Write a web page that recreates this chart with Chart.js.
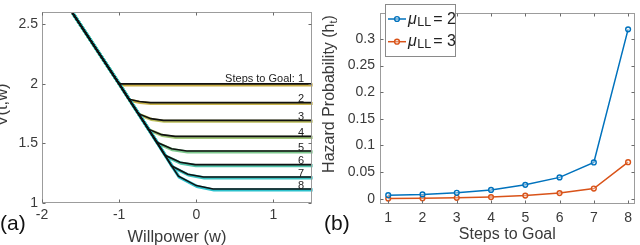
<!DOCTYPE html>
<html><head><meta charset="utf-8">
<script src="https://cdn.jsdelivr.net/npm/chart.js@4/dist/chart.umd.min.js"></script>
<style>
html,body{margin:0;padding:0;background:#fff;width:640px;height:245px;overflow:hidden}
canvas{position:absolute;top:0}
#ca{left:0}#cb{left:320px}
</style></head><body>
<canvas id="ca" width="320" height="245"></canvas>
<canvas id="cb" width="320" height="245"></canvas>
<script>
const FONT = '"Liberation Sans", Arial, Helvetica, sans-serif';

// ---------- Panel (a) data ----------
const aXTicks = [-2, -1, 0, 1];
const aYTicks = [1, 1.5, 2, 2.5];
const diagStart = [-1.61, 2.6];
const kinkW = [-1.0, -0.872, -0.751, -0.621, -0.512, -0.405, -0.318, -0.232];
const kinkV = [2.0, 1.87, 1.75, 1.62, 1.51, 1.40, 1.31, 1.225];
const bendW = [null, -0.74, -0.59, -0.45, -0.32, -0.21, -0.11, 0.0];
const bendV = [null, 1.852, 1.708, 1.574, 1.455, 1.342, 1.242, 1.146];
const flatW = [-1.0, -0.599, -0.427, -0.275, -0.123, -0.016, 0.092, 0.218];
const flatV = [2.0, 1.843, 1.694, 1.559, 1.436, 1.322, 1.218, 1.117];
const wEnd = 1.5;
const stepLabels = ['Steps to Goal: 1', '2', '3', '4', '5', '6', '7', '8'];
const curveColors = ['#c8ad45', '#c9b44c', '#bcbf5c', '#9fc676', '#7dc98e', '#52c6ad', '#39c3c2', '#2cc1cc'];

// ---------- Panel (b) data ----------
const steps = [1, 2, 3, 4, 5, 6, 7, 8];
const hazardMu2 = [0.0065, 0.008, 0.011, 0.0165, 0.026, 0.040, 0.068, 0.318];
const hazardMu3 = [0.0002, 0.0006, 0.0016, 0.003, 0.0058, 0.0105, 0.019, 0.0685];
const bYTicks = [0, 0.05, 0.1, 0.15, 0.2, 0.25, 0.3];
const seriesNames = ['2', '3'];
const seriesColors = ['#0072BD', '#D95319'];

function curvePoints(k) {
  const pts = [{x: diagStart[0], y: diagStart[1]}];
  for (let i = 0; i <= k; i++) pts.push({x: kinkW[i], y: kinkV[i]});
  if (bendW[k] !== null) {
    pts.push({x: bendW[k], y: bendV[k]});
    pts.push({x: flatW[k], y: flatV[k]});
  }
  pts.push({x: wEnd, y: flatV[k]});
  return pts;
}

const aDatasets = [];
for (let k = 0; k < stepLabels.length; k++) {
  aDatasets.push({data: curvePoints(k), borderColor: '#111', borderWidth: 1.6, order: 0, pointRadius: 0});
}
for (let k = 0; k < stepLabels.length; k++) {
  aDatasets.push({data: curvePoints(k), borderColor: curveColors[k], borderWidth: 3.2, order: 10 - k, pointRadius: 0, shadow: true});
}

const shadowShift = {
  id: 'shadowShift',
  beforeDatasetDraw(chart, args) {
    if (chart.data.datasets[args.index].shadow) { chart.ctx.save(); chart.ctx.translate(0.8, 0.9); }
  },
  afterDatasetDraw(chart, args) {
    if (chart.data.datasets[args.index].shadow) chart.ctx.restore();
  }
};

function seg(ctx, x1, y1, x2, y2) { ctx.beginPath(); ctx.moveTo(x1, y1); ctx.lineTo(x2, y2); ctx.stroke(); }

const boxPlugin = {
  id: 'box',
  afterDatasetsDraw(chart) {
    const {ctx, chartArea: a, scales: {x, y}} = chart;
    ctx.save();
    const L = Math.round(a.left) + 0.5, R = Math.round(a.right) - 0.5, T = Math.round(a.top) + 0.5, B = Math.round(a.bottom) - 0.5;
    ctx.strokeStyle = '#9c9c9c'; ctx.lineWidth = 1;
    ctx.strokeRect(L, T, R - L, B - T);
    ctx.strokeStyle = '#6a6a6a';
    x.ticks.forEach(t => { const px = Math.round(x.getPixelForValue(t.value)) + 0.5; seg(ctx, px, B, px, B - 3); seg(ctx, px, T, px, T + 3); });
    y.ticks.forEach(t => { const py = Math.round(y.getPixelForValue(t.value)) + 0.5; seg(ctx, L, py, L + 3, py); seg(ctx, R, py, R - 3, py); });
    ctx.restore();
  }
};

const aText = {
  id: 'aText',
  afterDraw(chart) {
    const {ctx, scales: {x, y}, chartArea: a} = chart;
    ctx.save();
    ctx.fillStyle = '#222';
    ctx.font = '11px ' + FONT;
    ctx.textAlign = 'right'; ctx.textBaseline = 'alphabetic';
    stepLabels.forEach((s, i) => {
      const py = y.getPixelForValue(flatV[i]);
      ctx.fillText(s, 304, i === 0 ? py - 1.5 : py - 0.5);
    });
    ctx.fillStyle = '#3a3a3a';
    ctx.textAlign = 'center';
    ctx.font = '16.5px ' + FONT;
    ctx.fillText('Willpower (w)', (a.left + a.right) / 2, 242);
    ctx.save();
    ctx.translate(7, 105); ctx.rotate(-Math.PI / 2);
    ctx.fillText('V(t,w)', 0, 0);
    ctx.restore();
    ctx.textAlign = 'left';
    ctx.fillStyle = '#111';
    ctx.font = '21px ' + FONT;
    ctx.fillText('(a)', 0, 230);
    ctx.restore();
  }
};

const tickFont = {family: FONT, size: 14};

new Chart(document.getElementById('ca'), {
  type: 'line',
  data: {datasets: aDatasets},
  options: {
    responsive: false, animation: false, devicePixelRatio: 1,
    layout: {padding: {left: 0, right: 8, top: 3, bottom: 0}},
    plugins: {legend: {display: false}, tooltip: {enabled: false}},
    elements: {line: {tension: 0}, point: {radius: 0}},
    scales: {
      x: {type: 'linear', min: -2, max: wEnd,
        afterBuildTicks: s => { s.ticks = aXTicks.map(v => ({value: v})); },
        afterFit: s => { s.height = 42; },
        grid: {display: false, drawTicks: false}, border: {display: false},
        ticks: {font: tickFont, color: '#3a3a3a', padding: 4, maxRotation: 0, callback: v => String(v)}},
      y: {type: 'linear', min: 1, max: 2.6,
        afterBuildTicks: s => { s.ticks = aYTicks.map(v => ({value: v})); },
        afterFit: s => { s.width = 42; },
        grid: {display: false, drawTicks: false}, border: {display: false},
        ticks: {font: tickFont, color: '#3a3a3a', padding: 4, callback: v => String(v)}}
    }
  },
  plugins: [shadowShift, boxPlugin, aText]
});

// ---------- Panel (b) ----------
const bDatasets = [hazardMu2, hazardMu3].map((vals, i) => ({
  label: 'μLL = ' + seriesNames[i],
  data: steps.map((s, j) => ({x: s, y: vals[j]})),
  borderColor: seriesColors[i], backgroundColor: seriesColors[i],
  borderWidth: 1.5, pointRadius: 2.4, pointBorderWidth: 1.4,
  pointBackgroundColor: 'rgba(255,255,255,0.35)', pointBorderColor: seriesColors[i],
  order: i
}));

function drawMuLabel(ctx, x, base, val) {
  ctx.textAlign = 'left';
  ctx.font = 'italic 16px ' + FONT;
  ctx.fillText('μ', x, base);
  let cx = x + ctx.measureText('μ').width + 0.5;
  ctx.font = '12.5px ' + FONT;
  ctx.fillText('LL', cx, base + 2);
  cx += ctx.measureText('LL').width + 2;
  ctx.font = '16px ' + FONT;
  ctx.fillText('= ' + val, cx, base);
}

const bText = {
  id: 'bText',
  afterDraw(chart) {
    const {ctx, chartArea: a} = chart;
    ctx.save();
    // legend
    ctx.fillStyle = '#fff'; ctx.strokeStyle = '#8a8a8a'; ctx.lineWidth = 1;
    ctx.fillRect(65.5, 4.5, 70, 52); ctx.strokeRect(65.5, 4.5, 70, 52);
    chart.data.datasets.forEach((ds, i) => {
      const cy = 19 + i * 22.7;
      ctx.strokeStyle = ds.borderColor; ctx.lineWidth = 1.5;
      seg(ctx, 68, cy, 86, cy);
      ctx.beginPath(); ctx.arc(77, cy, 2.4, 0, Math.PI * 2);
      ctx.fillStyle = 'rgba(255,255,255,0.35)'; ctx.fill(); ctx.lineWidth = 1.4; ctx.stroke();
      ctx.fillStyle = '#222';
      drawMuLabel(ctx, 88, cy + 4.5, seriesNames[i]);
    });
    // titles
    ctx.fillStyle = '#3a3a3a';
    ctx.textAlign = 'center';
    ctx.font = '16px ' + FONT;
    ctx.fillText('Steps to Goal', (a.left + a.right) / 2, 238.5);
    ctx.save();
    ctx.translate(14, 94); ctx.rotate(-Math.PI / 2);
    ctx.font = '16px ' + FONT;
    const main = 'Hazard Probability (h';
    const wMain = ctx.measureText(main).width;
    ctx.font = '11px ' + FONT;
    const wSub = ctx.measureText('t').width;
    ctx.font = '16px ' + FONT;
    const wEndP = ctx.measureText(')').width;
    let sx = -(wMain + wSub + wEndP) / 2;
    ctx.textAlign = 'left';
    ctx.fillText(main, sx, 0); sx += wMain;
    ctx.font = '11px ' + FONT; ctx.fillText('t', sx, 3); sx += wSub;
    ctx.font = '16px ' + FONT; ctx.fillText(')', sx, 0);
    ctx.restore();
    ctx.textAlign = 'left';
    ctx.fillStyle = '#111';
    ctx.font = '21px ' + FONT;
    ctx.fillText('(b)', 4, 230);
    ctx.restore();
  }
};

new Chart(document.getElementById('cb'), {
  type: 'line',
  data: {datasets: bDatasets},
  options: {
    responsive: false, animation: false, devicePixelRatio: 1,
    layout: {padding: {left: 0, right: 4, top: 2, bottom: 0}},
    plugins: {legend: {display: false}, tooltip: {enabled: false}},
    elements: {line: {tension: 0}},
    scales: {
      x: {type: 'linear', min: 0.76, max: 8.19,
        afterBuildTicks: s => { s.ticks = steps.map(v => ({value: v})); },
        afterFit: s => { s.height = 41; },
        grid: {display: false, drawTicks: false}, border: {display: false},
        ticks: {font: tickFont, color: '#3a3a3a', padding: 6, maxRotation: 0, callback: v => String(v)}},
      y: {type: 'linear', min: -0.01, max: 0.348,
        afterBuildTicks: s => { s.ticks = bYTicks.map(v => ({value: v})); },
        afterFit: s => { s.width = 60; },
        grid: {display: false, drawTicks: false}, border: {display: false},
        ticks: {font: tickFont, color: '#3a3a3a', padding: 5, callback: v => String(v)}}
    }
  },
  plugins: [boxPlugin, bText]
});
</script>
</body></html>
